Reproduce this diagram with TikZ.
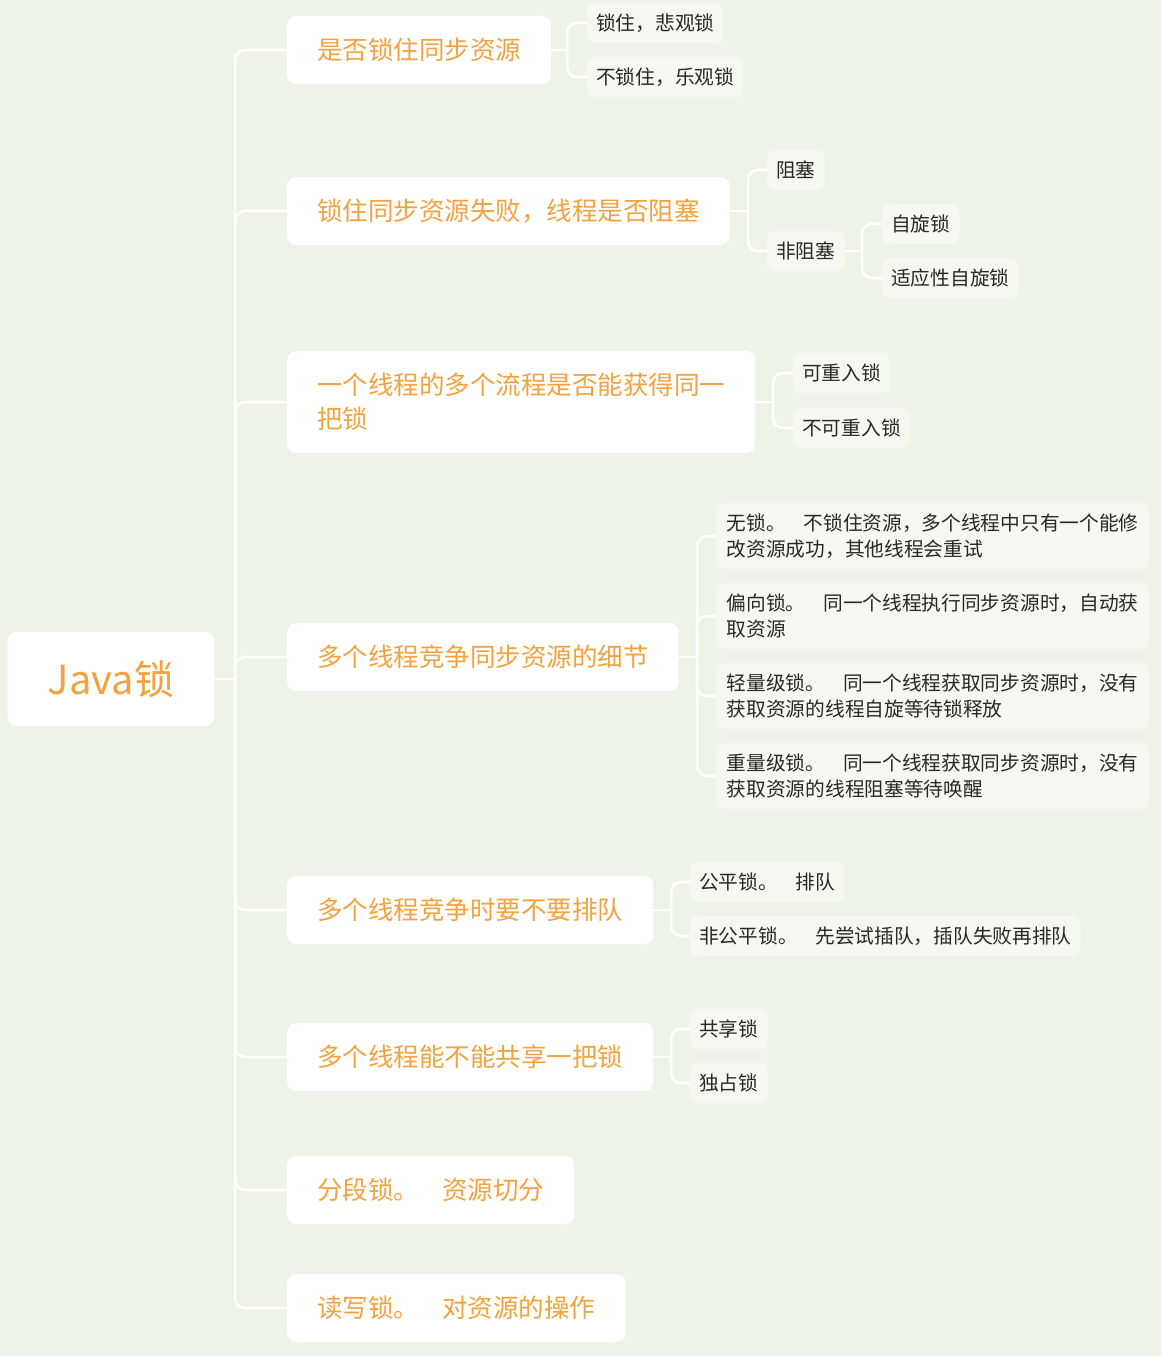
\documentclass[tikz,border=0pt]{standalone}
\usepackage{fontspec}
\setmainfont{Noto Sans CJK SC}
\usetikzlibrary{positioning}
\definecolor{color1}{RGB}{244, 162, 62}
\definecolor{color2}{RGB}{238, 243, 232}
\definecolor{color3}{RGB}{245, 248, 241}
\definecolor{textgray}{RGB}{40, 40, 40}
\newcommand{\gap}{\hspace{0.9em}}

\begin{document}
\begin{tikzpicture}[x=1pt, y=-1pt,
	root/.style={fill=white, rounded corners=9pt, text=color1, font=\fontsize{40}{48}\selectfont, minimum width=207pt, minimum height=94pt},
	topic/.style={fill=white, rounded corners=9pt, text=color1, font=\fontsize{25.5}{34}\selectfont, inner xsep=30pt, inner ysep=0pt, minimum height=68pt, anchor=west, align=left},
	sub/.style={fill=color3, rounded corners=8pt, text=textgray, font=\fontsize{19.7}{26}\selectfont, inner xsep=9pt, inner ysep=0pt, minimum height=40pt, anchor=west, align=left},
	detail/.style={sub, inner xsep=8pt, minimum width=433pt, minimum height=66pt},
	conn/.style={white, line width=2.5pt, rounded corners=10pt}]
	\fill[color2] (0,0) rectangle (1161,1356);
	% root and topics
	\node[root] (java) at (111,679) {Java锁};
	\node[topic] (t1) at (287,50) {是否锁住同步资源};
	\node[topic] (t2) at (287,211) {锁住同步资源失败，线程是否阻塞};
	\node[topic, minimum height=102pt] (t3) at (287,402) {一个线程的多个流程是否能获得同一\\把锁};
	\node[topic] (t4) at (287,657) {多个线程竞争同步资源的细节};
	\node[topic] (t5) at (287,910) {多个线程竞争时要不要排队};
	\node[topic] (t6) at (287,1057) {多个线程能不能共享一把锁};
	\node[topic] (t7) at (287,1190) {分段锁。\gap 资源切分};
	\node[topic] (t8) at (287,1308) {读写锁。\gap 对资源的操作};
	% sub topics
	\node[sub] (s11) at (587,23) {锁住，悲观锁};
	\node[sub] (s12) at (587,77) {不锁住，乐观锁};
	\node[sub] (s21) at (767,170) {阻塞};
	\node[sub] (s22) at (767,251) {非阻塞};
	\node[sub] (s221) at (882,224) {自旋锁};
	\node[sub] (s222) at (882,278) {适应性自旋锁};
	\node[sub] (s31) at (793,373) {可重入锁};
	\node[sub] (s32) at (793,428) {不可重入锁};
	\node[detail] (s41) at (716,536) {无锁。\gap 不锁住资源，多个线程中只有一个能修\\改资源成功，其他线程会重试};
	\node[detail] (s42) at (716,616) {偏向锁。\gap 同一个线程执行同步资源时，自动获\\取资源};
	\node[detail] (s43) at (716,696) {轻量级锁。\gap 同一个线程获取同步资源时，没有\\获取资源的线程自旋等待锁释放};
	\node[detail] (s44) at (716,776) {重量级锁。\gap 同一个线程获取同步资源时，没有\\获取资源的线程阻塞等待唤醒};
	\node[sub] (s51) at (690,882) {公平锁。\gap 排队};
	\node[sub] (s52) at (690,936) {非公平锁。\gap 先尝试插队，插队失败再排队};
	\node[sub] (s61) at (690,1029) {共享锁};
	\node[sub] (s62) at (690,1083) {独占锁};
	% connectors
	\coordinate (trunk) at (235,679);
	\draw[conn] (java.east) -- (trunk);
	\foreach \t in {t1,t2,t3,t4,t5,t6,t7,t8}
		\draw[conn] (trunk) |- (\t.west);
	\coordinate (b1) at (567,50);
	\coordinate (b2) at (748,211);
	\coordinate (b22) at (862,251);
	\coordinate (b3) at (773,402);
	\coordinate (b4) at (697,657);
	\coordinate (b5) at (671,910);
	\coordinate (b6) at (671,1057);
	\draw[conn] (t1.east) -- (b1);
	\draw[conn] (t2.east) -- (b2);
	\draw[conn] (s22.east) -- (b22);
	\draw[conn] (t3.east) -- (b3);
	\draw[conn] (t4.east) -- (b4);
	\draw[conn] (t5.east) -- (b5);
	\draw[conn] (t6.east) -- (b6);
	\foreach \s in {s11,s12} \draw[conn] (b1) |- (\s.west);
	\foreach \s in {s21,s22} \draw[conn] (b2) |- (\s.west);
	\foreach \s in {s221,s222} \draw[conn] (b22) |- (\s.west);
	\foreach \s in {s31,s32} \draw[conn] (b3) |- (\s.west);
	\foreach \s in {s41,s42,s43,s44} \draw[conn] (b4) |- (\s.west);
	\foreach \s in {s51,s52} \draw[conn] (b5) |- (\s.west);
	\foreach \s in {s61,s62} \draw[conn] (b6) |- (\s.west);
\end{tikzpicture}
\end{document}
